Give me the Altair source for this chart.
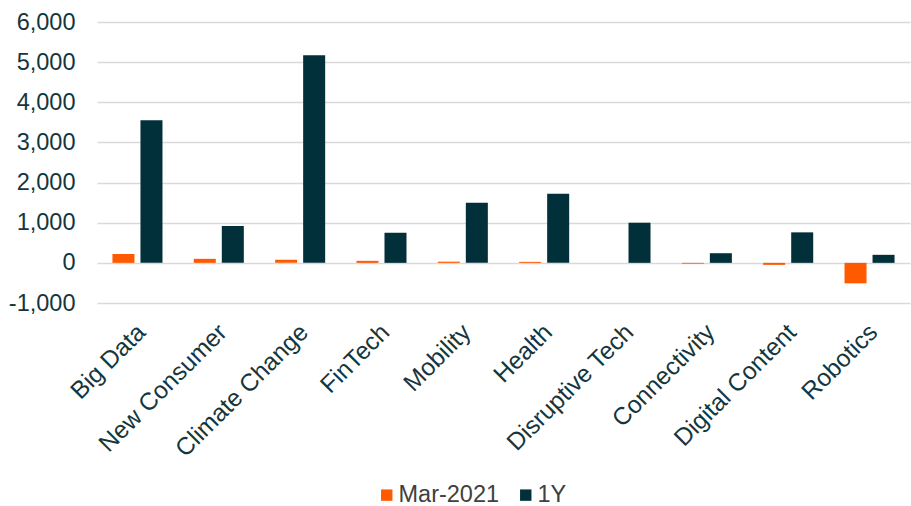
import altair as alt
import pandas as pd

categories = ["Big Data", "New Consumer", "Climate Change", "FinTech", "Mobility",
              "Health", "Disruptive Tech", "Connectivity", "Digital Content", "Robotics"]
mar_2021 = [220, 100, 80, 50, 30, 25, 0, -20, -50, -510]
one_year = [3550, 920, 5170, 750, 1500, 1720, 1000, 240, 760, 200]
series = ["Mar-2021", "1Y"]
colors = ["#FF5A00", "#02303A"]
y_ticks = [-1000, 0, 1000, 2000, 3000, 4000, 5000, 6000]

rows = []
for c, a, b in zip(categories, mar_2021, one_year):
    rows.append({"category": c, "series": series[0], "value": a})
    rows.append({"category": c, "series": series[1], "value": b})
df = pd.DataFrame(rows)

font = "Liberation Sans"
text_color = "#14363D"
fs = 23.5

chart = alt.Chart(df).mark_bar().encode(
    x=alt.X("category:N", sort=categories, title=None,
            scale=alt.Scale(paddingInner=0.385, paddingOuter=0.19),
            axis=alt.Axis(labelAngle=-45, labelAlign="right", labelBaseline="top",
                          labelPadding=17, labelOffset=-4, ticks=False, domain=False,
                          labelFontSize=24.5, labelFont=font, labelColor=text_color)),
    xOffset=alt.XOffset("series:N", sort=series,
                        scale=alt.Scale(paddingInner=0.214, paddingOuter=0)),
    y=alt.Y("value:Q", title=None,
            scale=alt.Scale(domain=[-1000, 6000], nice=False),
            axis=alt.Axis(values=y_ticks, format=",d", ticks=False, domain=False,
                          labelExpr="replace(datum.label, '\u2212', '-')",
                          labelFontSize=fs, labelFont=font, labelColor=text_color,
                          labelPadding=22, gridColor="#D9D9D9", gridWidth=1.5)),
    color=alt.Color("series:N", sort=series,
                    scale=alt.Scale(domain=series, range=colors),
                    legend=alt.Legend(title=None, orient="none", direction="horizontal",
                                      legendX=278, legendY=461,
                                      symbolType="square", symbolSize=130,
                                      symbolStrokeWidth=0,
                                      labelFontSize=fs, labelFont=font,
                                      labelColor="#404040", columnPadding=14,
                                      labelOffset=0)),
).properties(
    width=813, height=281,
    autosize=alt.AutoSizeParams(type="none"),
    padding={"left": 97, "top": 22, "right": 1, "bottom": 203},
).configure_view(stroke=None)

chart.save("out.html", embed_options={"renderer": "svg", "actions": False})
